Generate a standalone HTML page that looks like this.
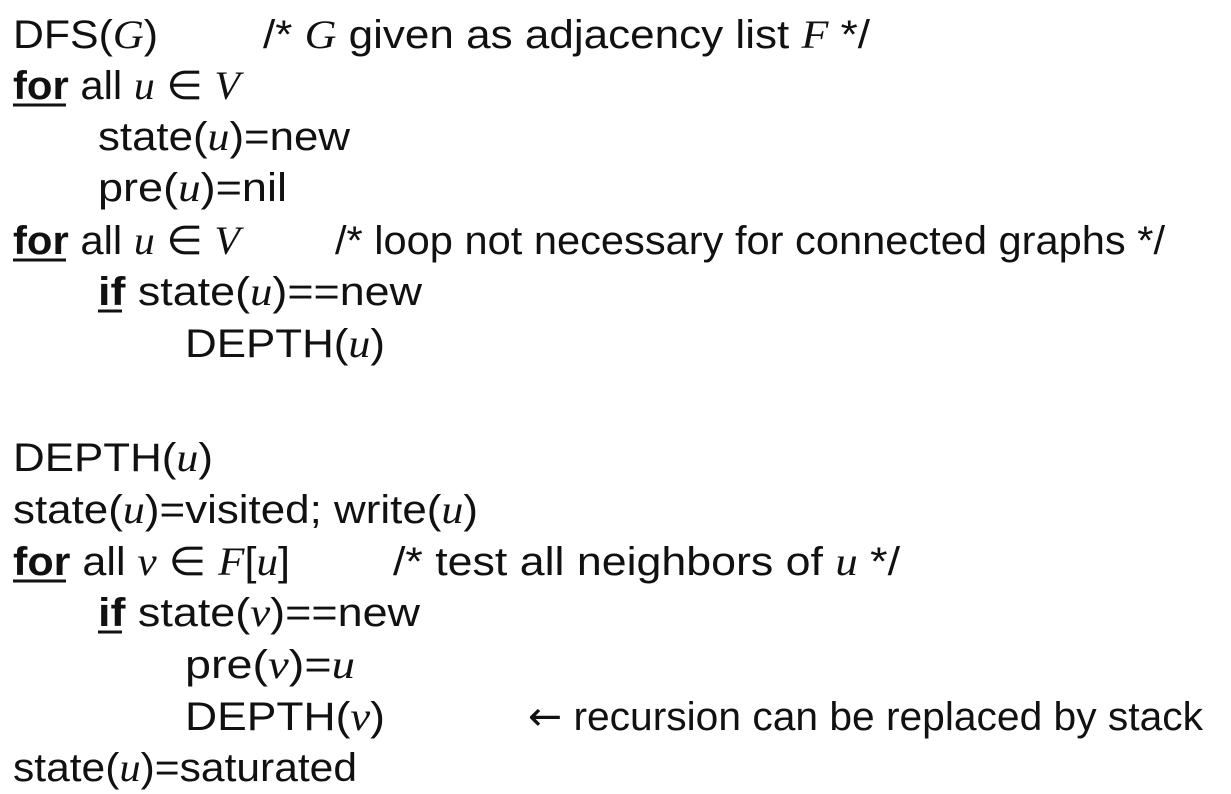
<!DOCTYPE html>
<html><head><meta charset="utf-8"><style>
html,body{margin:0;padding:0;background:#fff;width:1231px;height:794px;overflow:hidden}
svg{display:block}
text{font-family:"Liberation Sans",sans-serif;font-size:40px;fill:#111}
.m{font-family:"Liberation Serif",serif;font-style:italic}
.b{font-weight:bold}
.a{font-family:"DejaVu Sans",sans-serif}
</style></head><body>
<svg width="1231" height="794" viewBox="0 0 1231 794">
<g stroke="#111" stroke-width="3">
<line x1="13" y1="105" x2="66" y2="105"/>
<line x1="13" y1="260" x2="66" y2="260"/>
<line x1="98" y1="311" x2="122" y2="311"/>
<line x1="13" y1="581" x2="66" y2="581"/>
<line x1="98" y1="632" x2="122" y2="632"/>
</g>
<text x="13" y="48" textLength="145" lengthAdjust="spacingAndGlyphs">DFS(<tspan class="m">G</tspan>)</text>
<text x="263" y="48" textLength="607" lengthAdjust="spacingAndGlyphs">/* <tspan class="m">G</tspan> given as adjacency list <tspan class="m">F</tspan> */</text>
<text x="13" y="99" textLength="227" lengthAdjust="spacingAndGlyphs"><tspan class="b">for</tspan> all <tspan class="m">u</tspan> ∈ <tspan class="m">V</tspan></text>
<text x="98" y="150" textLength="252" lengthAdjust="spacingAndGlyphs">state(<tspan class="m">u</tspan>)=new</text>
<text x="98" y="201" textLength="189" lengthAdjust="spacingAndGlyphs">pre(<tspan class="m">u</tspan>)=nil</text>
<text x="13" y="254" textLength="227" lengthAdjust="spacingAndGlyphs"><tspan class="b">for</tspan> all <tspan class="m">u</tspan> ∈ <tspan class="m">V</tspan></text>
<text x="335" y="254" textLength="830" lengthAdjust="spacingAndGlyphs">/* loop not necessary for connected graphs */</text>
<text x="98" y="305" textLength="324" lengthAdjust="spacingAndGlyphs"><tspan class="b">if</tspan> state(<tspan class="m">u</tspan>)==new</text>
<text x="185" y="357" textLength="200" lengthAdjust="spacingAndGlyphs">DEPTH(<tspan class="m">u</tspan>)</text>
<text x="13" y="471" textLength="200" lengthAdjust="spacingAndGlyphs">DEPTH(<tspan class="m">u</tspan>)</text>
<text x="13" y="523" textLength="465" lengthAdjust="spacingAndGlyphs">state(<tspan class="m">u</tspan>)=visited; write(<tspan class="m">u</tspan>)</text>
<text x="13" y="575" textLength="277" lengthAdjust="spacingAndGlyphs"><tspan class="b">for</tspan> all <tspan class="m">v</tspan> ∈ <tspan class="m">F</tspan>[<tspan class="m">u</tspan>]</text>
<text x="393" y="575" textLength="507" lengthAdjust="spacingAndGlyphs">/* test all neighbors of <tspan class="m">u</tspan> */</text>
<text x="98" y="626" textLength="322" lengthAdjust="spacingAndGlyphs"><tspan class="b">if</tspan> state(<tspan class="m">v</tspan>)==new</text>
<text x="185" y="678" textLength="170" lengthAdjust="spacingAndGlyphs">pre(<tspan class="m">v</tspan>)=<tspan class="m">u</tspan></text>
<text x="185" y="730" textLength="200" lengthAdjust="spacingAndGlyphs">DEPTH(<tspan class="m">v</tspan>)</text>
<text x="528" y="730" textLength="675" lengthAdjust="spacingAndGlyphs"><tspan class="a">←</tspan> recursion can be replaced by stack</text>
<text x="13" y="781" textLength="344" lengthAdjust="spacingAndGlyphs">state(<tspan class="m">u</tspan>)=saturated</text>
</svg>
</body></html>
